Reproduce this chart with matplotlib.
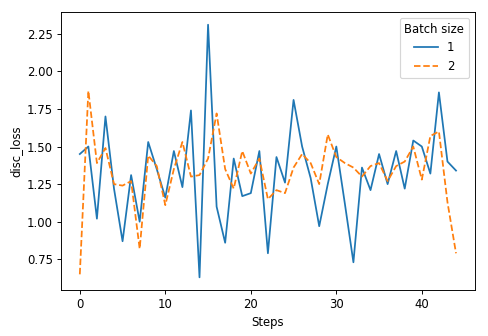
import numpy as np
import matplotlib
matplotlib.use("Agg")
import matplotlib.pyplot as plt

steps = np.arange(45)

# batch size 1
loss_bs1 = [1.45, 1.50, 1.02, 1.70, 1.22, 0.87, 1.31, 1.00, 1.53, 1.35,
            1.16, 1.47, 1.23, 1.74, 0.63, 2.31, 1.10, 0.86, 1.42, 1.17,
            1.19, 1.47, 0.79, 1.43, 1.26, 1.81, 1.50, 1.29, 0.97, 1.25,
            1.50, 1.12, 0.73, 1.36, 1.21, 1.45, 1.25, 1.47, 1.22, 1.54,
            1.50, 1.32, 1.86, 1.40, 1.34]

# batch size 2
loss_bs2 = [0.65, 1.87, 1.39, 1.49, 1.25, 1.24, 1.27, 0.82, 1.44, 1.37,
            1.11, 1.35, 1.53, 1.30, 1.31, 1.42, 1.72, 1.35, 1.22, 1.47,
            1.32, 1.42, 1.15, 1.21, 1.19, 1.36, 1.45, 1.39, 1.25, 1.58,
            1.43, 1.39, 1.36, 1.30, 1.37, 1.39, 1.27, 1.37, 1.40, 1.50,
            1.28, 1.57, 1.60, 1.13, 0.79]

dpi = 488 / 5.8
fig = plt.figure(figsize=(5.8, 336 / dpi), dpi=dpi)
ax = fig.add_axes([0.125, 0.137, 0.848, 0.827])

ax.plot(steps, loss_bs1, color="tab:blue", linestyle="-", label="1")
ax.plot(steps, loss_bs2, color="tab:orange", linestyle="--", label="2")

ax.set_xlabel("Steps")
ax.set_ylabel("disc_loss")
ax.set_xticks([0, 10, 20, 30, 40])
ax.legend(title="Batch size", loc="upper right")

fig.savefig("out.png", dpi=dpi)
